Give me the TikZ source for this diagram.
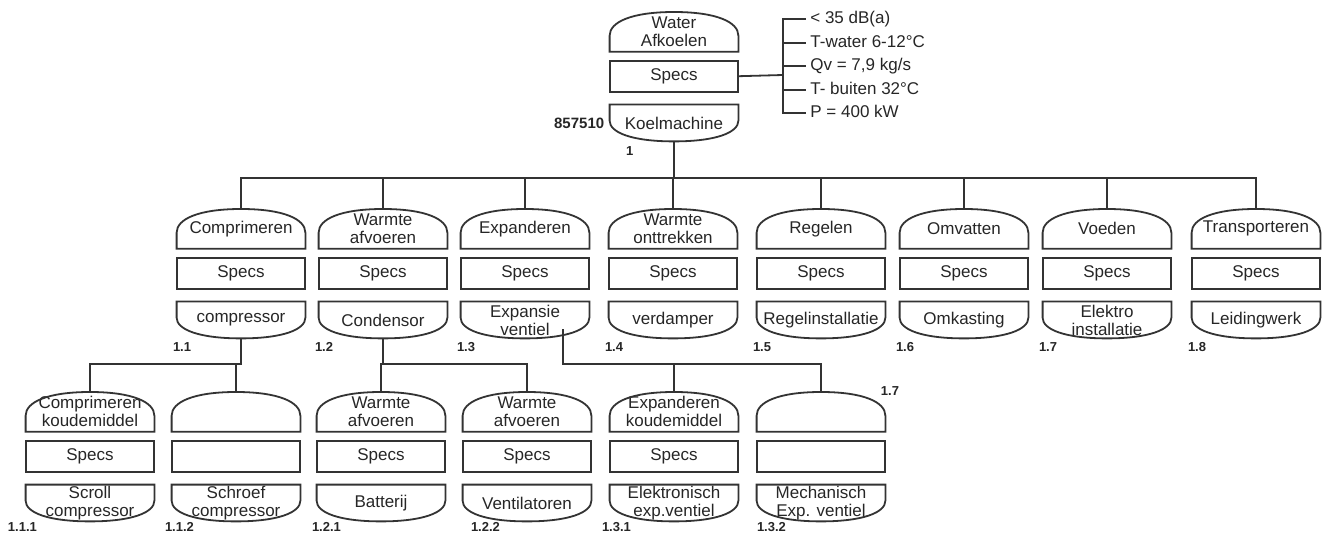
\documentclass[tikz,border=0pt]{standalone}
\usepackage{fontspec}
\setmainfont{Liberation Sans}
\usetikzlibrary{positioning, calc}
\tikzset{
    part/.style={minimum width=64pt, inner sep=0pt, align=center,
        font=\fontsize{8.5}{9}\selectfont, text=black!85},
    kop/.style={part, minimum height=19.5pt},
    specs/.style={part, draw=black!80, line width=0.9pt, minimum height=15.5pt},
    voet/.style={part, minimum height=18pt},
    omtrek/.style={draw=black!80, line width=0.9pt},
    lijn/.style={draw=black!80, line width=0.9pt},
    nummer/.style={inner sep=0pt, text=black!85, font=\fontsize{6.5}{7}\selectfont\bfseries},
    eis/.style={anchor=west, inner sep=2pt, text=black!85, font=\fontsize{8.5}{9}\selectfont,
        text height=6pt, text depth=1.8pt}
}

\begin{document}
\begin{tikzpicture}[x=0.5pt, y=-0.5pt]
\useasboundingbox (0,0) rectangle (1330,535);

% Bausteine: Name/x/y/Kopf/Specs/Fuss
\foreach \naam/\px/\py/\kop/\spec/\voet in {
    top/674/12/{Water\\Afkoelen}/Specs/Koelmachine,
    x11/241/209/Comprimeren/Specs/compressor,
    x12/383/209/{Warmte\\afvoeren}/Specs/Condensor,
    x13/525/209/Expanderen/Specs/{Expansie\\ventiel},
    x14/673/209/{Warmte\\onttrekken}/Specs/verdamper,
    x15/821/209/Regelen/Specs/Regelinstallatie,
    x16/964/209/Omvatten/Specs/Omkasting,
    x17/1107/209/Voeden/Specs/{Elektro\\installatie},
    x18/1256/209/Transporteren/Specs/Leidingwerk,
    x111/90/392/{Comprimeren\\koudemiddel}/Specs/{Scroll\\compressor},
    x112/236/392/{}/{}/{Schroef\\compressor},
    x121/381/392/{Warmte\\afvoeren}/Specs/Batterij,
    x122/527/392/{Warmte\\afvoeren}/Specs/Ventilatoren,
    x131/674/392/{Expanderen\\koudemiddel}/Specs/{Elektronisch\\exp.ventiel},
    x132/821/392/{}/{}/{Mechanisch\\Exp. ventiel}}{
    \node[kop, anchor=north] (\naam-k) at (\px,\py) {\kop};
    \node[specs, below=4pt of \naam-k] (\naam-s) {\spec};
    \node[voet, below=6pt of \naam-s] (\naam-v) {\voet};
    \draw[omtrek] (\naam-k.south west) -- ++(0pt,8pt)
        .. controls +(0pt,7pt) and +(-21pt,0pt) .. (\naam-k.north)
        .. controls +(21pt,0pt) and +(0pt,7pt) .. ($(\naam-k.south east)+(0pt,8pt)$)
        -- (\naam-k.south east) -- cycle;
    \draw[omtrek] (\naam-v.north west) -- (\naam-v.north east) -- ++(0pt,-8pt)
        .. controls +(0pt,-6pt) and +(21pt,0pt) .. (\naam-v.south)
        .. controls +(-21pt,0pt) and +(0pt,-6pt) .. ($(\naam-v.north west)+(0pt,-8pt)$) -- cycle;
}

% Anforderungen
\coordinate (eisen) at (783,75);
\draw[lijn] (top-s.east) -- (eisen);
\node[eis] (e1) at (806,19) {< 35 dB(a)};
\node[eis] (e2) at (806,43) {T-water 6-12°C};
\node[eis] (e3) at (806,66) {Qv = 7,9 kg/s};
\node[eis] (e4) at (806,90) {T- buiten 32°C};
\node[eis] (e5) at (806,113) {P = 400 kW};
\foreach \i in {1,...,5}
    \draw[lijn] (eisen) |- (e\i.west);

% Ebene 1
\coordinate (rail0) at (673,178);
\foreach \kind in {x11,x12,x13,x14,x15,x16,x17,x18}
    \draw[lijn] (top-v.south) -- (top-v.south |- rail0) -| (\kind-k.north);

% Ebene 2
\coordinate (rail1) at (0,364);
\foreach \ouder/\kind in {x11/x111, x11/x112, x12/x121, x12/x122}
    \draw[lijn] (\ouder-v.south) -- (\ouder-v.south |- rail1) -| (\kind-k.north);
\coordinate (x13-uit) at (563,329);
\foreach \kind in {x131,x132}
    \draw[lijn] (x13-uit) -- (x13-uit |- rail1) -| (\kind-k.north);

% Nummers
\node[nummer, font=\fontsize{7.5}{8}\selectfont\bfseries, left=2.5pt of top-v] (top-code) {857510};
\node[nummer, below right=2.5pt and 8pt of top-v.south west] (top-nr) {1};
\foreach \naam/\nr in {x11/1.1, x12/1.2, x13/1.3, x14/1.4, x15/1.5, x16/1.6, x17/1.7, x18/1.8}
    \node[nummer, below right=2pt and -2pt of \naam-v.south west] (\naam-nr) {\nr};
\foreach \naam/\nr/\dx in {x111/1.1.1/-9pt, x112/1.1.2/-3.5pt, x121/1.2.1/-2.5pt,
    x122/1.2.2/4pt, x131/1.3.1/-4pt, x132/1.3.2/0pt}
    \node[nummer, below right=0.5pt and \dx of \naam-v.south west] (\naam-nr) {\nr};
\node[nummer] (los-nr) at (890,391) {1.7};
\end{tikzpicture}
\end{document}
